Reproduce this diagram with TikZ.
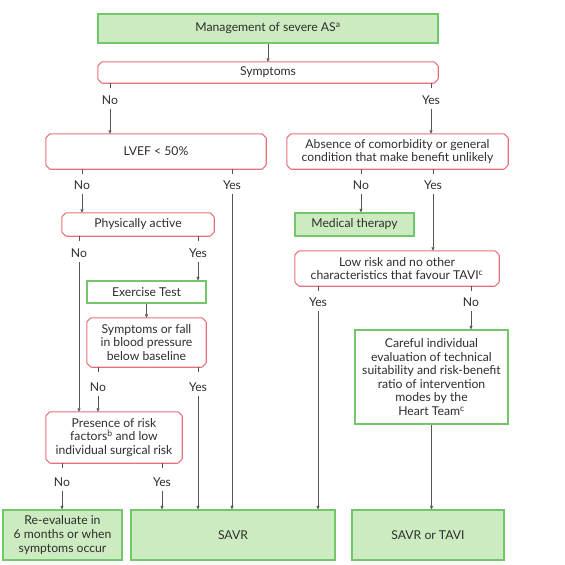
\documentclass[tikz,border=0pt]{standalone}
\usepackage{fontspec}
\setmainfont{Lato}
\usetikzlibrary{arrows.meta}
\definecolor{gfill}{HTML}{CDEBC0}
\definecolor{gline}{HTML}{74C66A}
\definecolor{rline}{HTML}{E8707A}
\definecolor{txt}{HTML}{2E2E2E}
\definecolor{conn}{HTML}{555555}
\newcommand\chamfbox[1]{\draw[rbord]
    ([xshift=4pt]#1.north west) -- ([xshift=-4pt]#1.north east)
    -- ([yshift=-4pt]#1.north east) -- ([yshift=4pt]#1.south east)
    -- ([xshift=-4pt]#1.south east) -- ([xshift=4pt]#1.south west)
    -- ([yshift=4pt]#1.south west) -- ([yshift=-4pt]#1.north west) -- cycle;}
\begin{document}
\begin{tikzpicture}[x=1pt,y=-1pt,
  every node/.style={font=\fontsize{12.2}{13.6}\selectfont, text=txt, align=center, inner sep=0pt},
  gbox/.style={draw=gline, line width=1.1pt, fill=gfill, rectangle},
  wbox/.style={draw=gline, line width=1.1pt, fill=white, rectangle},
  rbox/.style={rectangle},
  rbord/.style={draw=rline, line width=1.1pt, rounded corners=0.7pt},
  lab/.style={font=\fontsize{12.2}{13.6}\selectfont},
  cn/.style={draw=conn, line width=0.6pt},
  ar/.style={cn, -{Triangle[length=3.5pt,width=3pt]}}
]
\useasboundingbox (0,0) rectangle (565,565);
% boxes
\node[gbox, minimum width=340pt, minimum height=29pt] (top) at (268,28.5) {Management of severe AS\textsuperscript{a}};
\node[rbox, minimum width=340pt, minimum height=21pt] (symp) at (268,72.5) {Symptoms};
\node[rbox, minimum width=220pt, minimum height=35pt] (lvef) at (156,151.5) {LVEF \textless{} 50\%};
\node[rbox, minimum width=221pt, minimum height=35pt] (absn) at (397.5,151.5) {Absence of comorbidity or general\\condition that make benefit unlikely};
\node[rbox, minimum width=152pt, minimum height=23pt] (phys) at (138,224.5) {Physically active};
\node[gbox, minimum width=119pt, minimum height=23pt] (med) at (354.5,224.5) {Medical therapy};
\node[rbox, minimum width=204pt, minimum height=35pt] (low) at (397,268.5) {Low risk and no other\\characteristics that favour TAVI\textsuperscript{c}};
\node[wbox, minimum width=119pt, minimum height=22pt] (ex) at (146.5,292) {Exercise Test};
\node[rbox, minimum width=119pt, minimum height=49pt] (sf) at (146.5,342.5) {Symptoms or fall\\in blood pressure\\below baseline};
\node[wbox, minimum width=153pt, minimum height=94pt] (care) at (431.5,377) {Careful individual\\evaluation of technical\\suitability and risk-benefit\\ratio of intervention\\modes by the\\Heart Team\textsuperscript{c}};
\node[rbox, minimum width=136pt, minimum height=51pt] (pres) at (114,437.5) {Presence of risk\\factors\textsuperscript{b} and low\\individual surgical risk};
\node[gbox, minimum width=119pt, minimum height=50pt] (reev) at (62.5,535) {Re-evaluate in\\6 months or when\\symptoms occur};
\node[gbox, minimum width=204pt, minimum height=50pt] (savr) at (233,535) {SAVR};
\node[gbox, minimum width=152pt, minimum height=50pt] (st) at (428,535) {SAVR or TAVI};
\foreach \b in {symp, lvef, absn, phys, low, sf, pres} {\chamfbox{\b}}
% labels
\node[lab] (sNo) at (110,100) {No};
\node[lab] (sYes) at (431,100) {Yes};
\node[lab] (lNo) at (82,185) {No};
\node[lab] (lYes) at (232,185) {Yes};
\node[lab] (aNo) at (361,185) {No};
\node[lab] (aYes) at (433,185) {Yes};
\node[lab] (pNo) at (79,253) {No};
\node[lab] (pYes) at (198,253) {Yes};
\node[lab] (lrYes) at (318,302) {Yes};
\node[lab] (lrNo) at (471,302) {No};
\node[lab] (fNo) at (98,387) {No};
\node[lab] (fYes) at (198,387) {Yes};
\node[lab] (prNo) at (62,482) {No};
\node[lab] (prYes) at (162,482) {Yes};
% connectors
\draw[ar] (top.south) -- (symp.north);
\foreach \l/\b in {sNo/symp, sYes/symp, lNo/lvef, lYes/lvef, aNo/absn, aYes/absn, pNo/phys, pYes/phys, lrYes/low, lrNo/low, fNo/sf, fYes/sf, prNo/pres, prYes/pres}
  \draw[cn] (\b.south -| \l) -- ++(0,5);
\draw[ar] ([yshift=-4pt]sNo.south) -- (lvef.north -| sNo);
\draw[ar] ([yshift=-4pt]sYes.south) -- (absn.north -| sYes);
\draw[ar] ([yshift=-4pt]lNo.south) -- (phys.north -| lNo);
\draw[ar] ([yshift=-4pt]lYes.south) -- (savr.north -| lYes);
\draw[ar] ([yshift=-4pt]aNo.south) -- (med.north -| aNo);
\draw[ar] ([yshift=-4pt]aYes.south) -- (low.north -| aYes);
\draw[ar] ([yshift=-4pt]pNo.south) -- (pres.north -| pNo);
\draw[ar] ([yshift=-4pt]pYes.south) -- (ex.north -| pYes);
\draw[ar] (ex.south) -- (sf.north);
\draw[ar] ([yshift=-4pt]lrYes.south) -- (savr.north -| lrYes);
\draw[ar] ([yshift=-4pt]lrNo.south) -- (care.north -| lrNo);
\draw[ar] ([yshift=-4pt]fNo.south) -- (pres.north -| fNo);
\draw[ar] ([yshift=-4pt]fYes.south) -- (savr.north -| fYes);
\draw[ar] ([yshift=-4pt]prNo.south) -- (reev.north -| prNo);
\draw[ar] ([yshift=-4pt]prYes.south) -- (savr.north -| prYes);
\draw[ar] (care.south) -- (st.north -| care);
\end{tikzpicture}
\end{document}
